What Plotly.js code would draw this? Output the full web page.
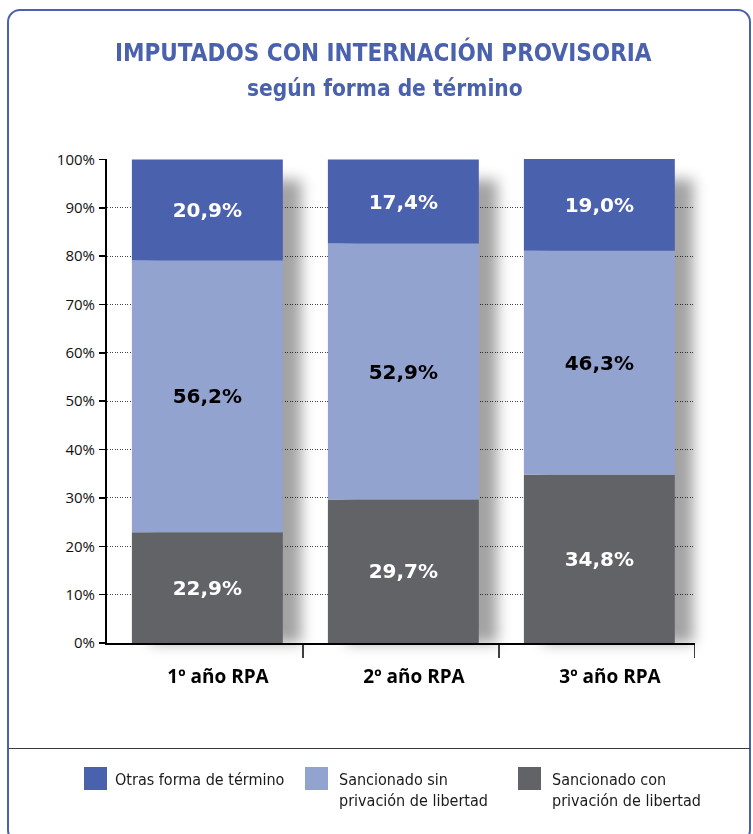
<!DOCTYPE html>
<html>
<head>
<meta charset="utf-8">
<script src="https://cdn.plot.ly/plotly-3.0.1.min.js"></script>
<style>
  html, body { margin: 0; padding: 0; background: #ffffff; }
  #wrap { position: relative; width: 753px; height: 834px; overflow: hidden; }
  #chart { position: absolute; left: 0; top: 0; width: 753px; height: 834px; }
  #frame { position: absolute; left: 7px; top: 9px; width: 740px; height: 830px;
           border: 2.5px solid #4a61ad; border-radius: 13px; pointer-events: none; }
  #sep { position: absolute; left: 9px; top: 748px; width: 741px; height: 0;
         border-top: 1.5px solid #3a3a3a; pointer-events: none; }
</style>
</head>
<body>
<div id="wrap">
  <div id="chart"></div>
  <div id="frame"></div>
  <div id="sep"></div>
</div>
<script>
// ---- data ----
const categories = ['1º año RPA', '2º año RPA', '3º año RPA'];
const otrasForma = [20.9, 17.4, 19.0];          // Otras forma de término
const sancionadoSin = [56.2, 52.9, 46.3];       // Sancionado sin privación de libertad
const sancionadoCon = [22.9, 29.7, 34.8];       // Sancionado con privación de libertad
const seriesNames = ['Otras forma de término', 'Sancionado sin<br>privación de libertad', 'Sancionado con<br>privación de libertad'];
const yTickVals = [0, 10, 20, 30, 40, 50, 60, 70, 80, 90, 100];
const yTickText = ['0%', '10%', '20%', '30%', '40%', '50%', '60%', '70%', '80%', '90%', '100%'];
const titleText = 'IMPUTADOS CON INTERNACIÓN PROVISORIA';
const subtitleText = 'según forma de término';

// ---- styles ----
const cDark = '#4a61ad', cLight = '#93a3cf', cGray = '#626366';
const W = 753, H = 834, ML = 107, MR = 58, MT = 159, MB = 191;
const PW = W - ML - MR, PH = H - MT - MB;
const px = v => (v - ML) / PW;
const py = v => (H - MB - v) / PH;

const fmt = v => v.toFixed(1).replace('.', ',') + '%';
const baseLight = sancionadoCon.slice();
const baseDark = sancionadoCon.map((v, i) => v + sancionadoSin[i]);
const totals = baseDark.map((v, i) => v + otrasForma[i]);
const yMax = Math.max(100, ...totals);

const BW = 0.77;
const OFF = -BW / 2 + 0.012;
const labelFont = { family: 'DejaVu Sans, sans-serif', size: 20, weight: 'bold' };

const data = [
  { // shadow
    type: 'bar', x: categories, y: totals, base: -4.2, width: BW, offset: OFF + 0.095,
    marker: { color: 'rgba(0,0,0,0.36)', line: { width: 0 } }, cliponaxis: false,
    hoverinfo: 'skip', showlegend: false
  },
  {
    type: 'bar', name: seriesNames[2], x: categories, y: sancionadoCon, base: 0, width: BW, offset: OFF,
    marker: { color: cGray, line: { width: 0 } },
    text: sancionadoCon.map(fmt), textposition: 'inside', insidetextanchor: 'middle', textangle: 0,
    textfont: Object.assign({ color: '#ffffff' }, labelFont), showlegend: false
  },
  {
    type: 'bar', name: seriesNames[1], x: categories, y: sancionadoSin, base: baseLight, width: BW, offset: OFF,
    marker: { color: cLight, line: { width: 0 } },
    text: sancionadoSin.map(fmt), textposition: 'inside', insidetextanchor: 'middle', textangle: 0,
    textfont: Object.assign({ color: '#000000' }, labelFont), showlegend: false
  },
  {
    type: 'bar', name: seriesNames[0], x: categories, y: otrasForma, base: baseDark, width: BW, offset: OFF,
    marker: { color: cDark, line: { width: 0 } },
    text: otrasForma.map(fmt), textposition: 'inside', insidetextanchor: 'middle', textangle: 0,
    textfont: Object.assign({ color: '#ffffff' }, labelFont), showlegend: false
  }
];

const legendColors = [cDark, cLight, cGray];
const legendSqX = [84, 305, 518];
const legendTxtX = [113, 337, 550];

const shapes = [];
const annotations = [];

// boundary ticks on the category axis
[0.5, 1.5, 2.5].forEach(b => shapes.push({
  type: 'line', xref: 'x', yref: 'paper', x0: b, x1: b, y0: py(643), y1: py(658),
  line: { color: '#000', width: 1.5 }
}));

// legend built from the series
seriesNames.forEach((n, i) => {
  shapes.push({
    type: 'rect', xref: 'paper', yref: 'paper',
    x0: px(legendSqX[i]), x1: px(legendSqX[i] + 23), y0: py(767), y1: py(790),
    fillcolor: legendColors[i], line: { width: 0 }
  });
  annotations.push({
    xref: 'paper', yref: 'paper', x: px(legendTxtX[i]), y: py(768),
    xanchor: 'left', yanchor: 'top', align: 'left', showarrow: false, text: n,
    font: { family: 'Liberation Sans Narrow, DejaVu Sans Condensed, sans-serif', size: 16, color: '#1a1a1a' }
  });
});

annotations.push({
  xref: 'paper', yref: 'paper', x: px(383), y: py(52), xanchor: 'center', yanchor: 'middle',
  showarrow: false, text: titleText,
  font: { family: 'DejaVu Sans Condensed, sans-serif', size: 24, weight: 'bold', color: cDark }
});
annotations.push({
  xref: 'paper', yref: 'paper', x: px(385), y: py(88), xanchor: 'center', yanchor: 'middle',
  showarrow: false, text: subtitleText,
  font: { family: 'DejaVu Sans Condensed, sans-serif', size: 22.5, weight: 'bold', color: cDark }
});

const layout = {
  width: W, height: H,
  margin: { l: ML, r: MR, t: MT, b: MB, pad: 0 },
  paper_bgcolor: '#ffffff', plot_bgcolor: '#ffffff',
  barmode: 'overlay',
  separators: ',.',
  showlegend: false,
  font: { family: 'Open Sans, sans-serif', color: '#000' },
  xaxis: {
    type: 'category', range: [-0.5, 2.5], fixedrange: true,
    showline: true, linecolor: '#000', linewidth: 2, ticks: '', showgrid: false,
    tickfont: { family: 'Open Sans, sans-serif', size: 19, weight: 'bold', color: '#000' },
    ticklabelshift: 13, ticklabelstandoff: 15
  },
  yaxis: {
    range: [0, yMax], tickmode: 'array', tickvals: yTickVals, ticktext: yTickText, fixedrange: true,
    showline: true, linecolor: '#000', linewidth: 2,
    ticks: 'outside', ticklen: 6, tickwidth: 1.5, tickcolor: '#000',
    showgrid: true, gridcolor: '#444', gridwidth: 1, griddash: '1px,1.5px', zeroline: false,
    tickfont: { family: 'Open Sans, sans-serif', size: 15, color: '#111' },
    ticklabelstandoff: 1
  },
  shapes: shapes,
  annotations: annotations
};

Plotly.newPlot('chart', data, layout, { staticPlot: true, displayModeBar: false }).then(gd => {
  const ns = 'http://www.w3.org/2000/svg';
  const svg = gd.querySelector('svg.main-svg');
  let defs = svg.querySelector('defs');
  if (!defs) { defs = document.createElementNS(ns, 'defs'); svg.insertBefore(defs, svg.firstChild); }
  const f = document.createElementNS(ns, 'filter');
  f.setAttribute('id', 'shadowBlur');
  f.setAttribute('x', '-30%'); f.setAttribute('y', '-10%');
  f.setAttribute('width', '160%'); f.setAttribute('height', '120%');
  const b = document.createElementNS(ns, 'feGaussianBlur');
  b.setAttribute('stdDeviation', '7');
  f.appendChild(b);
  defs.appendChild(f);
  const tr = svg.querySelectorAll('.barlayer .trace');
  if (tr.length) tr[0].setAttribute('filter', 'url(#shadowBlur)');
});
</script>
</body>
</html>
